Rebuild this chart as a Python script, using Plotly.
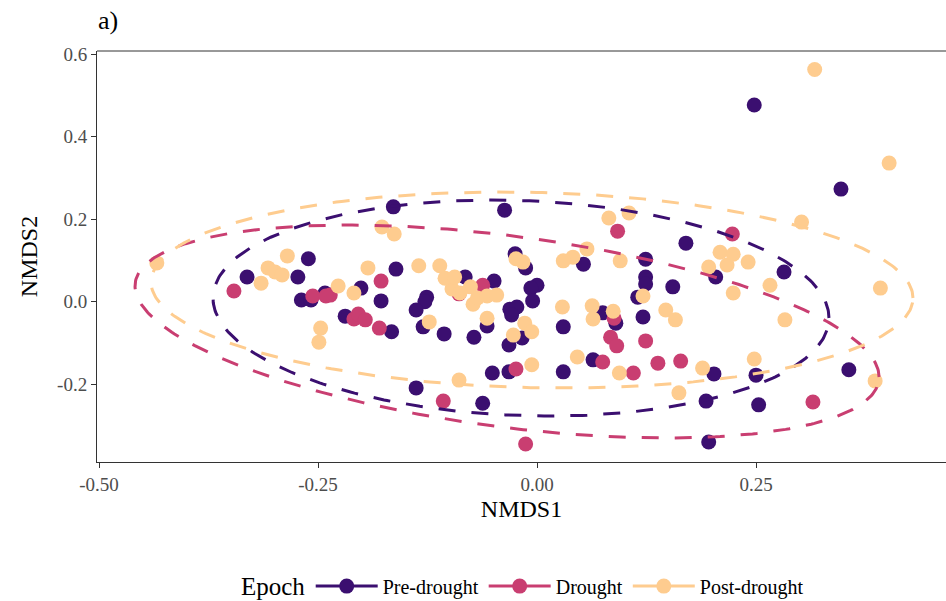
import numpy as np
import plotly.graph_objects as go

# ---------------- data ----------------
groups = ["Pre-drought", "Drought", "Post-drought"]
colors = ["#3B0F70", "#C93E71", "#FECC8F"]

pre_x = [0.248, 0.347, 0.356, 0.196, 0.253, 0.250, 0.193, 0.202, 0.282, 0.204,
         0.170, 0.124, 0.124, 0.124, 0.155, 0.115, 0.121, 0.075, 0.090, 0.053,
         0.030, 0.030, 0.064, -0.037, -0.025, -0.013, 0.000, -0.007, -0.005, -0.031,
         -0.023, -0.029, -0.017, -0.032, -0.057, -0.072, -0.082, -0.049, -0.126, -0.128,
         -0.138, -0.130, -0.106, -0.166, -0.161, -0.164, -0.178, -0.201, -0.219, -0.261,
         -0.331, -0.273, -0.269, -0.258, -0.242, -0.051, -0.032, -0.138, -0.062]
pre_y = [0.477, 0.273, -0.165, -0.340, -0.250, -0.178, -0.241, -0.175, 0.072, 0.060,
         0.142, 0.103, 0.060, 0.043, 0.036, 0.011, -0.037, -0.027, -0.052, 0.091,
         -0.061, -0.170, -0.141, 0.222, 0.116, 0.082, 0.040, 0.033, 0.002, -0.018,
         -0.013, -0.032, -0.088, -0.105, -0.059, -0.086, 0.060, 0.050, 0.011, 0.000,
         -0.020, -0.061, -0.078, -0.073, 0.079, 0.230, 0.002, 0.033, -0.035, 0.104,
         0.060, 0.060, 0.004, 0.004, 0.021, -0.173, -0.170, -0.209, -0.246]

dro_x = [0.223, 0.092, 0.315, 0.138, 0.164, 0.110, 0.124, 0.084, 0.091, 0.088,
         0.075, -0.024, -0.107, -0.013, -0.062, -0.089, -0.178, -0.180, -0.209, -0.204,
         -0.196, -0.236, -0.256, -0.241, -0.346]
dro_y = [0.164, 0.171, -0.243, -0.149, -0.144, -0.173, -0.095, -0.086, -0.107, -0.040,
         -0.146, -0.163, -0.241, -0.345, 0.040, 0.019, 0.050, -0.064, -0.042, -0.030,
         -0.044, 0.016, 0.014, 0.014, 0.026]

post_x = [0.317, 0.402, 0.392, 0.386, 0.302, 0.283, 0.266, 0.209, 0.224, 0.217,
          0.241, 0.196, 0.224, 0.248, 0.189, 0.162, 0.094, 0.147, 0.158, 0.082,
          0.105, 0.095, 0.057, 0.041, 0.030, 0.029, 0.063, 0.064, 0.087, 0.121,
          0.046, -0.006, -0.014, -0.006, -0.027, -0.057, -0.123, -0.089, -0.024, -0.016,
          -0.073, -0.068, -0.057, -0.046, -0.076, -0.097, -0.088, -0.105, -0.094, -0.135,
          -0.111, -0.193, -0.177, -0.163, -0.227, -0.209, -0.285, -0.307, -0.299, -0.291,
          -0.315, -0.434, -0.247, -0.249]
post_y = [0.563, 0.336, 0.033, -0.192, 0.193, -0.044, 0.040, 0.120, 0.115, 0.089,
          0.096, 0.084, 0.021, -0.139, -0.161, -0.221, -0.173, -0.020, -0.044, 0.203,
          0.215, 0.099, 0.128, 0.108, 0.099, -0.013, -0.010, -0.042, -0.023, 0.014,
          -0.134, -0.153, -0.052, -0.073, -0.081, -0.040, -0.049, -0.190, 0.104, 0.096,
          -0.006, 0.009, 0.014, 0.016, 0.036, 0.031, 0.021, 0.057, 0.060, 0.087,
          0.087, 0.082, 0.181, 0.164, 0.038, 0.021, 0.111, 0.082, 0.072, 0.065,
          0.045, 0.094, -0.064, -0.098]

# ellipse parameters (centre, half-width, vertical half-axis, vertical shear)
ell_cx = [-0.0183, -0.0342, -0.0057]
ell_cy = [-0.0153, -0.0722, 0.0284]
ell_a = [0.3516, 0.4247, 0.4349]
ell_b = [0.2607, 0.2335, 0.2368]
ell_c = [-0.0242, -0.1103, -0.0194]

x_ticks = [-0.5, -0.25, 0.0, 0.25]
x_tick_text = ["-0.50", "-0.25", "0.00", "0.25"]
y_ticks = [-0.2, 0.0, 0.2, 0.4, 0.6]
y_tick_text = ["-0.2", "0.0", "0.2", "0.4", "0.6"]

xs = [pre_x, dro_x, post_x]
ys = [pre_y, dro_y, post_y]

FONT = "Liberation Serif, Times New Roman, serif"

fig = go.Figure()

for g, c, x, y in zip(groups, colors, xs, ys):
    fig.add_trace(go.Scatter(x=x, y=y, mode="markers", showlegend=False,
                             marker=dict(color=c, size=15, line=dict(width=0)),
                             hoverinfo="skip"))

t = np.linspace(0, 2 * np.pi, 400)
for i, (g, c) in enumerate(zip(groups, colors)):
    ex = ell_cx[i] + ell_a[i] * np.cos(t)
    ey = ell_cy[i] + ell_c[i] * np.cos(t) + ell_b[i] * np.sin(t)
    fig.add_trace(go.Scatter(x=ex, y=ey, mode="lines", showlegend=False,
                             line=dict(color=c, width=3, dash="17px,16px"),
                             hoverinfo="skip"))

for g, c in zip(groups, colors):
    fig.add_trace(go.Scatter(x=[None], y=[None], mode="lines+markers", name=g,
                             line=dict(color=c, width=3, dash="solid"),
                             marker=dict(color=c, size=15)))

fig.update_layout(
    width=946, height=601,
    paper_bgcolor="white", plot_bgcolor="white",
    margin=dict(l=97, r=0, t=51, b=139, autoexpand=False),
    font=dict(family=FONT, color="black"),
    showlegend=True,
    legend=dict(orientation="h", x=0.545, xanchor="center", y=-0.302, yanchor="middle",
                font=dict(size=20, family=FONT), itemwidth=62),
)
fig.add_annotation(text="a)", xref="paper", yref="paper", x=-0.001, y=1.075,
                   xanchor="left", yanchor="middle", showarrow=False,
                   font=dict(size=26, family=FONT, color="black"))
fig.add_annotation(text="Epoch", xref="paper", yref="paper", x=0.247, y=-0.304,
                   xanchor="right", yanchor="middle", showarrow=False,
                   font=dict(size=25, family=FONT, color="black"))

fig.update_xaxes(range=[-0.5023, 0.4669], tickvals=x_ticks, ticktext=x_tick_text,
                 showgrid=False, zeroline=False, showline=True, linecolor="#333333",
                 linewidth=1, ticks="outside", ticklen=5, tickcolor="#333333",
                 automargin=False,
                 tickfont=dict(size=19, color="#4D4D4D", family=FONT),
                 title=dict(text="NMDS1", font=dict(size=24, family=FONT), standoff=6))
fig.update_yaxes(range=[-0.3886, 0.6078], tickvals=y_ticks, ticktext=y_tick_text,
                 showgrid=False, zeroline=False, showline=True, linecolor="#333333",
                 linewidth=1, ticks="outside", ticklen=5, tickcolor="#333333",
                 automargin=False,
                 tickfont=dict(size=19, color="#4D4D4D", family=FONT),
                 title=dict(text="NMDS2", font=dict(size=24, family=FONT), standoff=12))

fig.add_shape(type="line", xref="paper", yref="paper", x0=0, x1=1, y0=1, y1=1,
              line=dict(color="#333333", width=1))

fig.write_html("out.html", config={"displayModeBar": False},
               post_script="document.body.style.margin='0';document.body.style.overflow='hidden';")
